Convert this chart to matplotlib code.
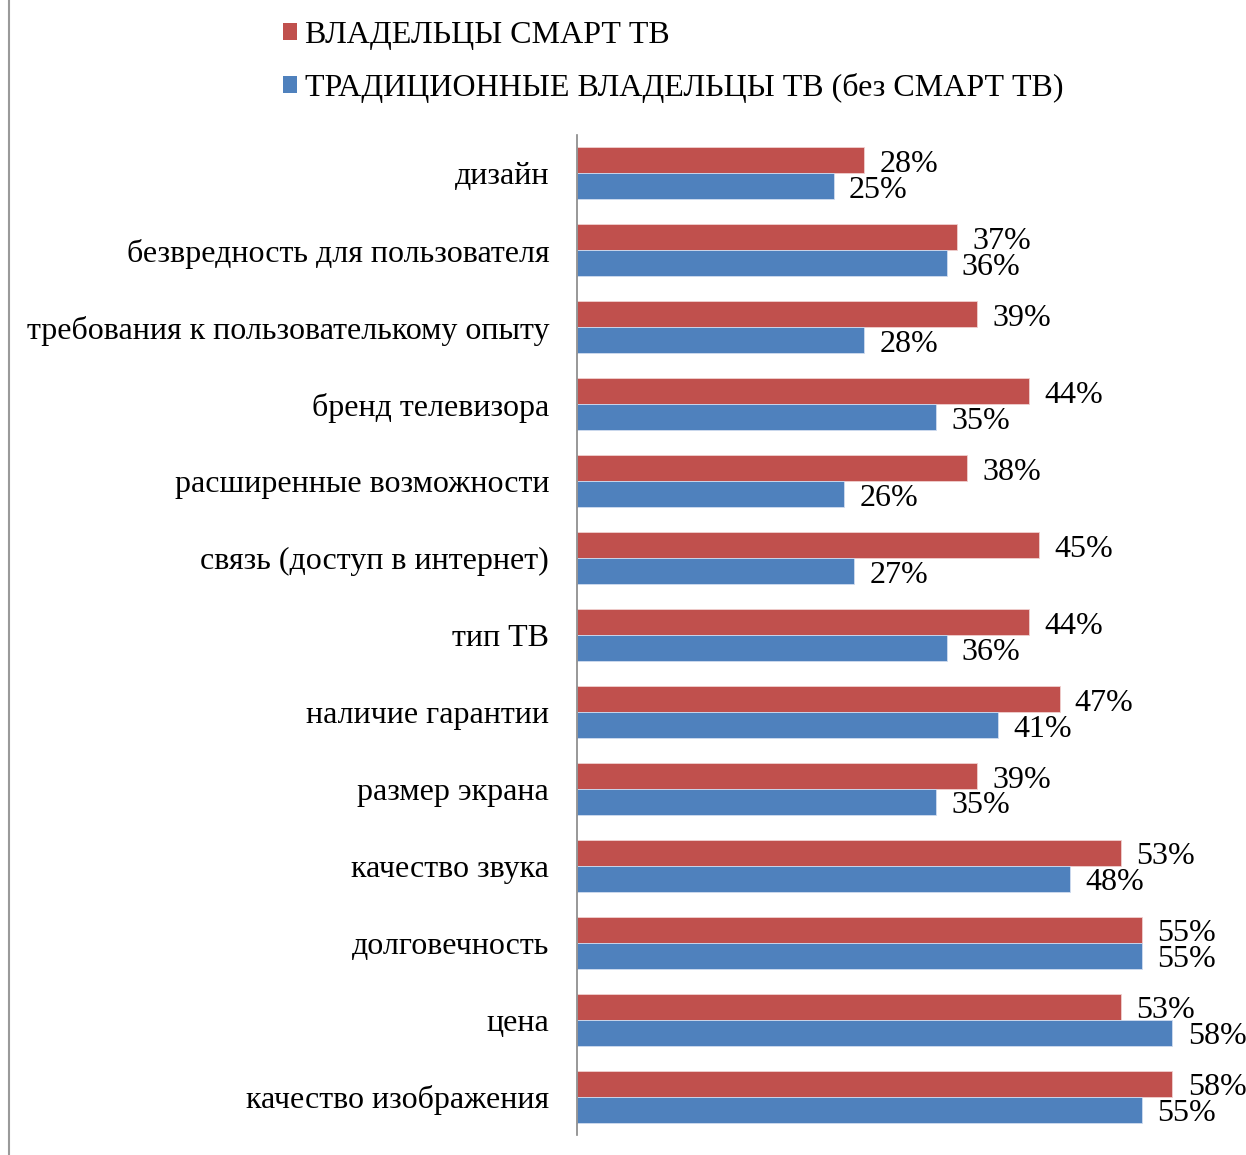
import matplotlib
matplotlib.use("Agg")
import matplotlib.pyplot as plt
from matplotlib.patches import Patch
from matplotlib.lines import Line2D
import numpy as np

categories = ["дизайн", "безвредность для пользователя",
              "требования к пользователькому опыту", "бренд телевизора",
              "расширенные возможности", "связь (доступ в интернет)",
              "тип ТВ", "наличие гарантии", "размер экрана", "качество звука",
              "долговечность", "цена", "качество изображения"]
smart = [28, 37, 39, 44, 38, 45, 44, 47, 39, 53, 55, 53, 58]
traditional = [25, 36, 28, 35, 26, 27, 36, 41, 35, 48, 55, 58, 55]
series_names = ["ВЛАДЕЛЬЦЫ СМАРТ ТВ", "ТРАДИЦИОННЫЕ ВЛАДЕЛЬЦЫ ТВ (без СМАРТ ТВ)"]

RED = "#C0504D"
BLUE = "#4F81BD"
FONT = "Liberation Serif"
FS = 23

W, H = 1246, 1155
fig = plt.figure(figsize=(W / 100, H / 100), dpi=100)
ax = fig.add_axes([577 / W, 20 / H, 616 / W, 1000 / H])

y = np.arange(len(categories))
bh = 26 / 77
ax.barh(y - bh / 2, smart, height=bh, color=RED, edgecolor="#f0d0d0", linewidth=0.6)
ax.barh(y + bh / 2, traditional, height=bh, color=BLUE, edgecolor="#d0dcf0", linewidth=0.6)

for yi, v in zip(y, smart):
    ax.annotate(f"{v}%", (v, yi - bh / 2), xytext=(11, -3), textcoords="offset points",
                va="center", ha="left", fontsize=FS, family=FONT)
for yi, v in zip(y, traditional):
    ax.annotate(f"{v}%", (v, yi + bh / 2), xytext=(11, -3), textcoords="offset points",
                va="center", ha="left", fontsize=FS, family=FONT)

ax.set_xlim(0, 60)
ax.set_ylim(len(categories) - 0.5, -0.5)
ax.set_yticks(y)
ax.set_yticklabels(categories, fontsize=FS, family=FONT)
ax.tick_params(axis="y", length=0, pad=20)
ax.set_xticks([])
for s in ["top", "right", "bottom"]:
    ax.spines[s].set_visible(False)
ax.spines["left"].set_color("#868686")
ax.spines["left"].set_linewidth(1.2)

handles = [Patch(facecolor=RED), Patch(facecolor=BLUE)]
fig.legend(handles, series_names, loc="upper left", bbox_to_anchor=(283 / W, 1 - 21 / H),
           frameon=False, prop={"family": FONT, "size": FS},
           handlelength=0.45, handleheight=0.45, handletextpad=0.25, labelspacing=0.72,
           borderaxespad=0, borderpad=0)

fig.add_artist(Line2D([8.5 / W, 8.5 / W], [0, 1], color="#9a9a9a", linewidth=1.5))

fig.savefig("out.png", dpi=100)
